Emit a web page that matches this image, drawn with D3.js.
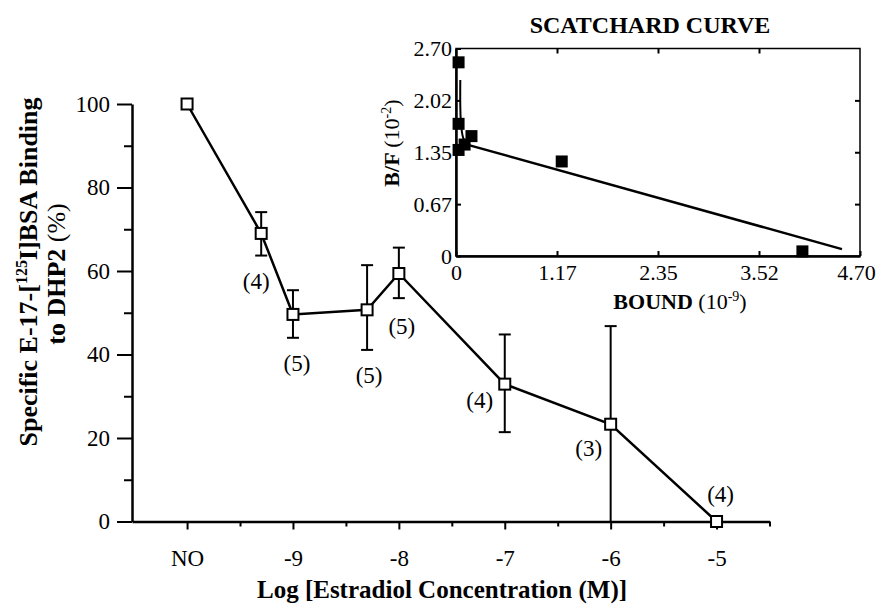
<!DOCTYPE html>
<html>
<head>
<meta charset="utf-8">
<script src="https://cdn.jsdelivr.net/npm/d3@7"></script>
<style>
  body { margin: 0; background: #fff; }
  svg { display: block; }
  text { font-family: "Liberation Serif", "DejaVu Serif", serif; fill: #000; }
  .axis path, .axis line { stroke: #000; }
  .bold { font-weight: bold; }
</style>
</head>
<body>
<div id="chart"></div>
<script>
// main plot: binding vs log estradiol concentration (-10 stands for "NO")
const logConc = [-10, -9.3, -9, -8.3, -8, -7, -6, -5];
const binding = [100, 69.0, 49.6, 50.7, 59.4, 32.9, 23.3, 0];
const errHigh = [null, 74.1, 55.4, 61.4, 65.6, 44.8, 46.8, null];
const errLow = [null, 63.7, 44.0, 41.1, 53.5, 21.4, 0, null];
const nLabels = ["", "(4)", "(5)", "(5)", "(5)", "(4)", "(3)", "(4)"];
const xMajor = [-10, -9, -8, -7, -6, -5];
const xMinor = [-9.5, -8.5, -7.5, -6.5, -5.5, -4.5];
const yMajor = [0, 20, 40, 60, 80, 100];
const yMinor = [10, 30, 50, 70, 90];

// inset: scatchard
const bound = [0.03, 0.03, 0.03, 0.10, 0.18, 1.23, 4.03];
const bf = [2.52, 1.72, 1.38, 1.45, 1.56, 1.23, 0.06];
const curvePts = [[0.05, 2.29], [0.05, 1.95], [0.06, 1.70], [0.09, 1.52], [0.16, 1.44]];
const fitPts = [[0.16, 1.44], [4.49, 0.09]];
const boundTicks = [0, 1.175, 2.35, 3.525, 4.70];
const boundLabels = ["0", "1.17", "2.35", "3.52", "4.70"];
const bfTicks = [0, 0.675, 1.35, 2.025, 2.70];
const bfLabels = ["0", "0.67", "1.35", "2.02", "2.70"];

// label offsets from each point (layout only)
const labelOffset = [[0, 0], [-5, 48], [4, 49], [2, 65], [3, 52], [-25, 16], [-22, 24], [4, -28]];

const W = 878, H = 604;
const svg = d3.select("#chart").append("svg").attr("width", W).attr("height", H);

const x = d3.scaleLinear().domain([-10.52, -4.5]).range([132, 769.5]);
const y = d3.scaleLinear().domain([0, 100]).range([521.5, 104]);

// x axis
const fmtX = (d) => (d === -10 ? "NO" : String(d));
svg.append("g")
  .attr("class", "axis")
  .attr("transform", `translate(0,${y(0)})`)
  .call(d3.axisBottom(x).tickValues(xMajor).tickFormat(fmtX).tickSize(8).tickSizeOuter(0).tickPadding(20))
  .call((g) => g.select(".domain").attr("stroke-width", 2.5))
  .call((g) => g.selectAll(".tick line").attr("stroke-width", 2))
  .call((g) => g.selectAll(".tick text").attr("font-size", 23));
svg.append("g")
  .attr("class", "axis")
  .attr("transform", `translate(0,${y(0)})`)
  .call(d3.axisBottom(x).tickValues(xMinor).tickFormat("").tickSize(5).tickSizeOuter(0))
  .call((g) => g.select(".domain").remove())
  .call((g) => g.selectAll(".tick line").attr("stroke-width", 2));

// y axis
svg.append("g")
  .attr("class", "axis")
  .attr("transform", `translate(${x(-10.52)},0)`)
  .call(d3.axisLeft(y).tickValues(yMajor).tickSize(15).tickSizeOuter(0).tickPadding(7))
  .call((g) => g.select(".domain").attr("stroke-width", 2.5))
  .call((g) => g.selectAll(".tick line").attr("stroke-width", 2))
  .call((g) => g.selectAll(".tick text").attr("font-size", 23));
svg.append("g")
  .attr("class", "axis")
  .attr("transform", `translate(${x(-10.52)},0)`)
  .call(d3.axisLeft(y).tickValues(yMinor).tickFormat("").tickSize(8).tickSizeOuter(0))
  .call((g) => g.select(".domain").remove())
  .call((g) => g.selectAll(".tick line").attr("stroke-width", 2));

// axis titles
const yt = svg.append("text")
  .attr("class", "bold")
  .attr("transform", "translate(37,272) rotate(-90)")
  .attr("text-anchor", "middle")
  .attr("font-size", 26);
yt.append("tspan").text("Specific E-17-[");
yt.append("tspan").attr("font-size", 16).attr("dy", -10).text("125");
yt.append("tspan").attr("dy", 10).text("I]BSA Binding");
const yt2 = svg.append("text")
  .attr("transform", "translate(65,274) rotate(-90)")
  .attr("text-anchor", "middle")
  .attr("font-size", 26);
yt2.append("tspan").attr("class", "bold").text("to DHP2 ");
yt2.append("tspan").text("(%)");

svg.append("text")
  .attr("class", "bold")
  .attr("x", 442).attr("y", 598)
  .attr("text-anchor", "middle")
  .attr("font-size", 25)
  .text("Log [Estradiol Concentration (M)]");

// data
const pts = logConc.map((c, i) => ({
  c, v: binding[i], hi: errHigh[i], lo: errLow[i], n: nLabels[i], off: labelOffset[i]
}));

const line = d3.line().x((d) => x(d.c)).y((d) => y(d.v));
svg.append("path")
  .datum(pts)
  .attr("d", line)
  .attr("fill", "none")
  .attr("stroke", "#000")
  .attr("stroke-width", 2.5);

const eb = svg.append("g").attr("stroke", "#000").attr("stroke-width", 2);
pts.filter((d) => d.hi !== null).forEach((d) => {
  const cx = x(d.c);
  eb.append("line").attr("x1", cx).attr("x2", cx).attr("y1", y(d.hi)).attr("y2", y(d.lo));
  eb.append("line").attr("x1", cx - 6).attr("x2", cx + 6).attr("y1", y(d.hi)).attr("y2", y(d.hi));
  if (d.lo > 0) {
    eb.append("line").attr("x1", cx - 6).attr("x2", cx + 6).attr("y1", y(d.lo)).attr("y2", y(d.lo));
  }
});

svg.append("g")
  .selectAll("rect")
  .data(pts)
  .join("rect")
  .attr("x", (d) => x(d.c) - 5.5)
  .attr("y", (d) => y(d.v) - 5.5)
  .attr("width", 11)
  .attr("height", 11)
  .attr("fill", "#fff")
  .attr("stroke", "#000")
  .attr("stroke-width", 2);

svg.append("g")
  .selectAll("text")
  .data(pts.filter((d) => d.n))
  .join("text")
  .attr("x", (d) => x(d.c) + d.off[0])
  .attr("y", (d) => y(d.v) + d.off[1])
  .attr("dy", "0.35em")
  .attr("text-anchor", "middle")
  .attr("font-size", 23)
  .text((d) => d.n);

// ---- inset ----
const bx = d3.scaleLinear().domain([0, 4.70]).range([456, 860]);
const by = d3.scaleLinear().domain([0, 2.70]).range([256, 48.5]);

const inset = svg.append("g");
inset.append("rect")
  .attr("x", bx(0)).attr("y", by(2.70))
  .attr("width", bx(4.70) - bx(0)).attr("height", by(0) - by(2.70))
  .attr("fill", "none").attr("stroke", "#000").attr("stroke-width", 1.5);

inset.append("g")
  .attr("class", "axis")
  .attr("transform", `translate(0,${by(0)})`)
  .call(d3.axisBottom(bx).tickValues(boundTicks).tickFormat((d, i) => boundLabels[i]).tickSize(-5).tickSizeOuter(0).tickPadding(8))
  .call((g) => g.select(".domain").attr("stroke-width", 2.5))
  .call((g) => g.selectAll(".tick line").attr("stroke-width", 2))
  .call((g) => g.selectAll(".tick text").attr("font-size", 22)
    .attr("dx", (d, i) => (i === boundTicks.length - 1 ? -4 : 0)));
inset.append("g")
  .attr("class", "axis")
  .attr("transform", `translate(0,${by(2.70)})`)
  .call(d3.axisTop(bx).tickValues(boundTicks.slice(1, 4)).tickFormat("").tickSize(-5).tickSizeOuter(0))
  .call((g) => g.select(".domain").remove())
  .call((g) => g.selectAll(".tick line").attr("stroke-width", 2));

inset.append("g")
  .attr("class", "axis")
  .attr("transform", `translate(${bx(0)},0)`)
  .call(d3.axisLeft(by).tickValues(bfTicks).tickFormat((d, i) => bfLabels[i]).tickSize(-5).tickSizeOuter(0).tickPadding(4))
  .call((g) => g.select(".domain").attr("stroke-width", 2.5))
  .call((g) => g.selectAll(".tick line").attr("stroke-width", 2))
  .call((g) => g.selectAll(".tick text").attr("font-size", 22));
inset.append("g")
  .attr("class", "axis")
  .attr("transform", `translate(${bx(4.70)},0)`)
  .call(d3.axisRight(by).tickValues(bfTicks.slice(1, 4)).tickFormat("").tickSize(-5).tickSizeOuter(0))
  .call((g) => g.select(".domain").remove())
  .call((g) => g.selectAll(".tick line").attr("stroke-width", 2));

const bline = d3.line().x((d) => bx(d[0])).y((d) => by(d[1]));
inset.append("path")
  .attr("d", bline.curve(d3.curveCatmullRom)(curvePts))
  .attr("fill", "none").attr("stroke", "#000").attr("stroke-width", 2);
inset.append("path")
  .attr("d", d3.line().x((d) => bx(d[0])).y((d) => by(d[1]))(fitPts))
  .attr("fill", "none").attr("stroke", "#000").attr("stroke-width", 2.5);

inset.append("g")
  .selectAll("rect")
  .data(bound.map((b, i) => [b, bf[i]]))
  .join("rect")
  .attr("x", (d) => bx(d[0]) - 6)
  .attr("y", (d) => by(d[1]) - 6)
  .attr("width", 12).attr("height", 12)
  .attr("fill", "#000");

inset.append("text")
  .attr("class", "bold")
  .attr("x", 650).attr("y", 33)
  .attr("text-anchor", "middle")
  .attr("font-size", 24)
  .text("SCATCHARD CURVE");

const bt = inset.append("text")
  .attr("x", 680).attr("y", 309)
  .attr("text-anchor", "middle")
  .attr("font-size", 22);
bt.append("tspan").attr("class", "bold").text("BOUND ");
bt.append("tspan").text("(10");
bt.append("tspan").attr("font-size", 14).attr("dy", -8).text("-9");
bt.append("tspan").attr("dy", 8).text(")");

const bft = inset.append("text")
  .attr("transform", "translate(399,143) rotate(-90)")
  .attr("text-anchor", "middle")
  .attr("font-size", 22);
bft.append("tspan").attr("class", "bold").text("B/F ");
bft.append("tspan").text("(10");
bft.append("tspan").attr("font-size", 14).attr("dy", -8).text("-2");
bft.append("tspan").attr("dy", 8).text(")");
</script>
</body>
</html>
